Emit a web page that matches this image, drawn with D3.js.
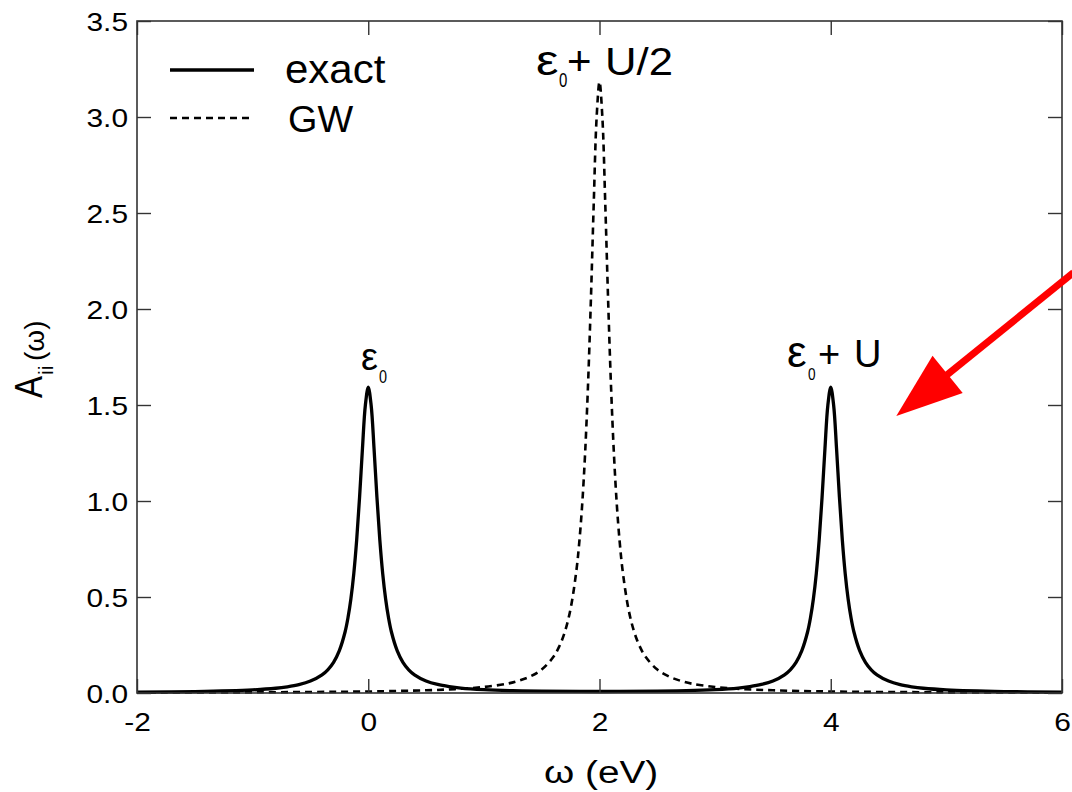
<!DOCTYPE html>
<html><head><meta charset="utf-8">
<script src="https://cdn.jsdelivr.net/npm/d3@7"></script>
<style>body{margin:0;background:#fff}svg{display:block}text{font-family:"Liberation Sans",Arial,sans-serif;fill:#000}</style>
</head><body><svg id="c" width="1072" height="792"></svg>
<script>
const exactX = [-2,-1.5,-1,-0.8,-0.7,-0.6,-0.5,-0.4,-0.35,-0.3,-0.25,-0.2,-0.175,-0.15,-0.125,-0.1,-0.075,-0.05,-0.025,0,
  0.025,0.05,0.075,0.1,0.125,0.15,0.175,0.2,0.25,0.3,0.35,0.4,0.5,0.6,0.7,0.8,1,1.25,1.5,2,2.5,2.75,3,3.2,3.3,3.4,3.5,3.6,3.65,3.7,3.75,3.8,3.825,3.85,3.875,3.9,3.925,3.95,3.975,4,
  4.025,4.05,4.075,4.1,4.125,4.15,4.175,4.2,4.25,4.3,4.35,4.4,4.5,4.6,4.7,4.8,5,5.5,6];
const exactY = [0.0044,0.0076,0.0164,0.0248,0.0325,0.0437,0.0620,0.0944,0.121,0.160,0.221,0.319,0.393,0.491,0.622,0.797,1.020,1.274,1.499,1.593,
  1.499,1.274,1.020,0.797,0.622,0.491,0.393,0.319,0.221,0.160,0.121,0.0948,0.0625,0.0444,0.0333,0.0257,0.0176,0.0122,0.0096,0.0079,0.0096,0.0122,0.0176,0.0257,0.0333,0.0444,0.0625,0.0948,0.121,0.160,0.221,0.319,0.393,0.491,0.622,0.797,1.020,1.274,1.499,1.593,
  1.499,1.274,1.020,0.797,0.622,0.491,0.393,0.319,0.221,0.160,0.121,0.0944,0.0620,0.0437,0.0325,0.0248,0.0164,0.0076,0.0044];
const gwX = [-2,-1,0,0.5,0.75,1,1.2,1.3,1.4,1.5,1.6,1.65,1.7,1.75,1.8,1.825,1.85,1.875,1.9,1.925,1.95,1.975,2,
  2.025,2.05,2.075,2.1,2.125,2.15,2.175,2.2,2.25,2.3,2.35,2.4,2.5,2.6,2.7,2.8,3,3.25,3.5,4,5,6];
const gwY = [0.0020,0.0035,0.0079,0.0141,0.0202,0.0315,0.0482,0.0637,0.0860,0.122,0.187,0.240,0.318,0.439,0.637,0.784,0.979,1.242,1.592,2.037,2.546,2.996,3.183,
  2.996,2.546,2.037,1.592,1.242,0.979,0.784,0.637,0.439,0.318,0.240,0.187,0.122,0.0860,0.0637,0.0482,0.0315,0.0202,0.0141,0.0079,0.0035,0.0020];
const xTicks = [-2,0,2,4,6];
const yTicks = [0,0.5,1,1.5,2,2.5,3,3.5];
const seriesNames = ["exact","GW"];

const svg = d3.select("#c");
const L=137,R=1062,T=21,B=693;
const x = d3.scaleLinear().domain([-2,6]).range([L,R]);
const y = d3.scaleLinear().domain([0,3.5]).range([B,T]);
const frame="#333";

// curves
const line = d3.line().x(d=>x(d[0])).y(d=>y(d[1])).curve(d3.curveCatmullRom.alpha(0.5));
svg.append("path").datum(gwX.map((v,i)=>[v,gwY[i]])).attr("d",line)
  .attr("fill","none").attr("stroke","#000").attr("stroke-width",2.6).attr("stroke-dasharray","7,5");
svg.append("path").datum(exactX.map((v,i)=>[v,exactY[i]])).attr("d",line)
  .attr("fill","none").attr("stroke","#000").attr("stroke-width",3.3);

// axes
const tl=14, SX=1.15;
const ax = (g)=>{g.select(".domain").remove(); g.selectAll("line").attr("stroke",frame).attr("stroke-width",1.4);};
svg.append("g").attr("transform",`translate(0,${B})`)
  .call(d3.axisBottom(x).tickValues(xTicks).tickSizeInner(-tl).tickSizeOuter(0).tickFormat(d=>String(d)))
  .call(ax).selectAll("text").attr("font-size",26).attr("dy",null).attr("y",38).attr("x",0)
  .attr("transform",`scale(${SX},1)`);
svg.append("g").attr("transform",`translate(0,${T})`)
  .call(d3.axisTop(x).tickValues(xTicks).tickSizeInner(-tl).tickSizeOuter(0).tickFormat(""))
  .call(ax);
svg.append("g").attr("transform",`translate(${L},0)`)
  .call(d3.axisLeft(y).tickValues(yTicks).tickSizeInner(-tl).tickSizeOuter(0).tickFormat(d3.format(".1f")))
  .call(ax).selectAll("text").attr("font-size",26).attr("dy",null).attr("y",9.5).attr("x",-9/SX)
  .attr("transform",`scale(${SX},1)`);
svg.append("g").attr("transform",`translate(${R},0)`)
  .call(d3.axisRight(y).tickValues(yTicks).tickSizeInner(-tl).tickSizeOuter(0).tickFormat(""))
  .call(ax);
svg.append("rect").attr("x",L).attr("y",T).attr("width",R-L).attr("height",B-T)
  .attr("fill","none").attr("stroke",frame).attr("stroke-width",1.6);

// text helper: positioned piece with horizontal stretch
function txt(px, py, s, size, sx, fam){
  return svg.append("text").attr("transform",`translate(${px},${py}) scale(${sx||1},1)`)
    .attr("font-size",size).attr("font-family",fam||null).text(s);
}
const SERIF="Liberation Serif, serif";

// legend
const lg = svg.append("g");
[[null,70,3.3],["7,5",118,2.6]].forEach(([da,yy,w],i)=>{
  lg.append("line").attr("x1",170).attr("x2",254).attr("y1",yy).attr("y2",yy)
    .attr("stroke","#000").attr("stroke-width",w).attr("stroke-dasharray",da);
});
txt(285,83,seriesNames[0],40,1.05);
txt(288,132,seriesNames[1],36,1.05);

// peak labels
// eps0 (left peak)
txt(361,370,"ε",38,1,SERIF);
txt(379,383,"0",18,0.8);
// eps0 + U/2 (center peak)
txt(536,75,"ε",42,1.2,SERIF);
txt(559,87,"0",20,0.75);
txt(567,75,"+",40,1.05);
txt(605,75,"U/2",38,1.15);
// eps0 + U (right peak)
txt(787,367,"ε",44,1,SERIF);
txt(808,380,"0",17,0.8);
txt(818,367,"+",38,1);
txt(854,367,"U",38,1);

// axis titles
txt(544,783,"ω (eV)",31,1.25);
const yg = svg.append("g").attr("transform",`translate(42,398) rotate(-90)`);
yg.append("text").attr("transform","scale(0.87,1)").attr("font-size",38).text("A");
yg.append("text").attr("x",23).attr("y",11).attr("font-size",21).text("ii");
yg.append("text").attr("x",37).attr("y",2).attr("font-size",28).text("(ω)");

// red arrow annotation
const tail=[6.1,2.19], tip=[4.567,1.443];
const p0=[x(tail[0]),y(tail[1])], p1=[x(tip[0]),y(tip[1])];
const ang=Math.atan2(p1[1]-p0[1],p1[0]-p0[0]);
const hl=66, hw=24;
const base=[p1[0]-hl*Math.cos(ang), p1[1]-hl*Math.sin(ang)];
svg.append("line").attr("x1",p0[0]).attr("y1",p0[1]).attr("x2",base[0]+5*Math.cos(ang)).attr("y2",base[1]+5*Math.sin(ang))
  .attr("stroke","#ff0000").attr("stroke-width",7);
const nx=-Math.sin(ang), ny=Math.cos(ang);
svg.append("path").attr("d",`M${p1[0]},${p1[1]}L${base[0]+hw*nx},${base[1]+hw*ny}L${base[0]-hw*nx},${base[1]-hw*ny}Z`).attr("fill","#ff0000");
</script></body></html>
